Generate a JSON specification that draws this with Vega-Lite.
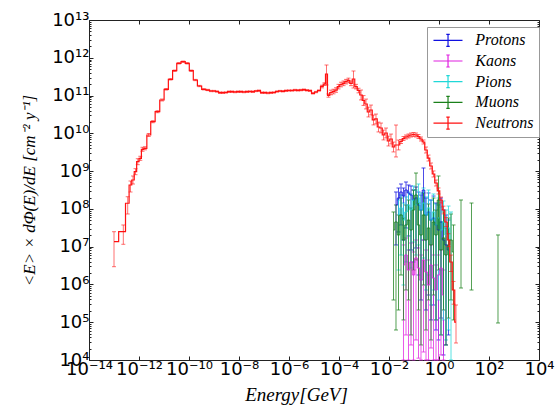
{
  "$schema": "https://vega.github.io/schema/vega-lite/v6.json",
  "width": 450,
  "height": 340,
  "autosize": {"type": "none"},
  "padding": {"left": 89, "top": 20, "right": 21, "bottom": 52},
  "background": "white",
  "config": {"view": {"stroke": "#222", "strokeWidth": 1}},
  "datasets": {
    "pts": [
      {"p":"Protons","E":1.905e-2,"F":1.27e8,"lo":1.11e7,"hi":2.80e8,"r":0},
      {"p":"Protons","E":2.40e-2,"F":1.94e8,"lo":2.45e7,"hi":3.57e8,"r":0},
      {"p":"Protons","E":3.02e-2,"F":2.80e8,"lo":3.75e7,"hi":4.56e8,"r":0},
      {"p":"Protons","E":3.80e-2,"F":2.19e8,"lo":1.50e7,"hi":3.57e8,"r":0},
      {"p":"Protons","E":4.79e-2,"F":3.16e8,"lo":3.12e7,"hi":5.15e8,"r":0},
      {"p":"Protons","E":6.03e-2,"F":2.64e8,"lo":1.92e7,"hi":4.29e8,"r":0},
      {"p":"Protons","E":7.59e-2,"F":2.33e8,"lo":8.17e6,"hi":4.04e8,"r":0},
      {"p":"Protons","E":9.55e-2,"F":1.72e8,"lo":3.93e6,"hi":3.16e8,"r":0},
      {"p":"Protons","E":0.1202,"F":1.94e8,"lo":9.23e6,"hi":3.80e8,"r":0},
      {"p":"Protons","E":0.1514,"F":1.27e8,"lo":1.78e6,"hi":2.80e8,"r":0},
      {"p":"Protons","E":0.1905,"F":9.35e7,"lo":3.88e5,"hi":2.33e8,"r":0},
      {"p":"Protons","E":0.240,"F":3.16e8,"lo":1.50e7,"hi":1.21e9,"r":0},
      {"p":"Protons","E":0.302,"F":6.90e7,"lo":2.11e5,"hi":1.94e8,"r":0},
      {"p":"Protons","E":0.380,"F":8.28e7,"lo":5.26e5,"hi":2.64e8,"r":0},
      {"p":"Protons","E":0.479,"F":5.08e7,"lo":1.15e5,"hi":1.72e8,"r":0},
      {"p":"Protons","E":0.603,"F":5.74e7,"lo":2.86e5,"hi":2.19e8,"r":0},
      {"p":"Protons","E":0.759,"F":3.75e7,"lo":6.23e4,"hi":1.43e8,"r":0},
      {"p":"Protons","E":0.955,"F":2.76e7,"lo":3.39e4,"hi":1.27e8,"r":0},
      {"p":"Protons","E":1.202,"F":4.50e7,"lo":1.29e5,"hi":1.94e8,"r":0},
      {"p":"Protons","E":1.514,"F":1.50e7,"lo":1.36e4,"hi":9.35e7,"r":0},
      {"p":"Protons","E":1.905,"F":1.11e7,"lo":2.50e4,"hi":6.90e7,"r":0},
      {"p":"Protons","E":2.40,"F":8.17e6,"lo":4.60e4,"hi":5.08e7,"r":0},

      {"p":"Kaons","E":3.80e-2,"F":3.27e6,"lo":2.96e3,"hi":1.11e7,"r":0},
      {"p":"Kaons","E":4.79e-2,"F":6.02e6,"lo":4.60e4,"hi":1.70e7,"r":0},
      {"p":"Kaons","E":6.03e-2,"F":2.41e6,"lo":5.45e3,"hi":8.17e6,"r":0},
      {"p":"Kaons","E":7.59e-2,"F":3.93e6,"lo":2.50e4,"hi":1.25e7,"r":0},
      {"p":"Kaons","E":9.55e-2,"F":1.78e6,"lo":2.96e3,"hi":7.23e6,"r":0},
      {"p":"Kaons","E":0.1202,"F":5.01e6,"lo":3.39e4,"hi":1.50e7,"r":0},
      {"p":"Kaons","E":0.1514,"F":2.72e6,"lo":1.12e4,"hi":9.23e6,"r":0},
      {"p":"Kaons","E":0.1905,"F":1.31e6,"lo":1.61e3,"hi":6.02e6,"r":0},
      {"p":"Kaons","E":0.240,"F":4.44e6,"lo":1.63e4,"hi":1.50e7,"r":0},
      {"p":"Kaons","E":0.302,"F":2.14e6,"lo":7.4e3,"hi":8.17e6,"r":0},
      {"p":"Kaons","E":0.380,"F":9.68e5,"lo":8.75e2,"hi":4.44e6,"r":0},
      {"p":"Kaons","E":0.479,"F":3.27e6,"lo":2.08e4,"hi":1.11e7,"r":0},
      {"p":"Kaons","E":0.603,"F":1.48e6,"lo":5.45e3,"hi":6.02e6,"r":0},
      {"p":"Kaons","E":0.759,"F":7.13e5,"lo":1.2e3,"hi":3.27e6,"r":0},
      {"p":"Kaons","E":0.955,"F":1.78e6,"lo":2.96e3,"hi":6.02e6,"r":0},
      {"p":"Kaons","E":1.202,"F":2.72e6,"lo":1.36e4,"hi":8.17e6,"r":0},
      {"p":"Kaons","E":1.514,"F":5.26e5,"lo":8.75e2,"hi":2.41e6,"r":0},

      {"p":"Pions","E":2.40e-2,"F":6.90e7,"lo":2.41e6,"hi":1.72e8,"r":0},
      {"p":"Pions","E":3.02e-2,"F":1.06e8,"lo":6.02e6,"hi":2.33e8,"r":0},
      {"p":"Pions","E":3.80e-2,"F":5.08e7,"lo":9.68e5,"hi":1.43e8,"r":0},
      {"p":"Pions","E":4.79e-2,"F":8.28e7,"lo":3.93e6,"hi":2.07e8,"r":0},
      {"p":"Pions","E":6.03e-2,"F":1.27e8,"lo":8.17e6,"hi":2.80e8,"r":0},
      {"p":"Pions","E":7.59e-2,"F":9.35e7,"lo":2.72e6,"hi":2.48e8,"r":0},
      {"p":"Pions","E":9.55e-2,"F":1.72e8,"lo":1.33e7,"hi":4.04e8,"r":0},
      {"p":"Pions","E":0.1202,"F":1.27e8,"lo":6.02e6,"hi":3.16e8,"r":0},
      {"p":"Pions","E":0.1514,"F":1.94e8,"lo":1.11e7,"hi":4.56e8,"r":0},
      {"p":"Pions","E":0.1905,"F":9.35e7,"lo":1.31e6,"hi":2.64e8,"r":0},
      {"p":"Pions","E":0.240,"F":1.43e8,"lo":5.01e6,"hi":3.57e8,"r":0},
      {"p":"Pions","E":0.302,"F":6.90e7,"lo":7.13e5,"hi":2.07e8,"r":0},
      {"p":"Pions","E":0.380,"F":1.06e8,"lo":1.78e6,"hi":3.16e8,"r":0},
      {"p":"Pions","E":0.479,"F":5.08e7,"lo":2.86e5,"hi":1.72e8,"r":0},
      {"p":"Pions","E":0.603,"F":8.28e7,"lo":7.13e5,"hi":2.48e8,"r":0},
      {"p":"Pions","E":0.759,"F":3.75e7,"lo":1.15e5,"hi":1.35e8,"r":0},
      {"p":"Pions","E":0.955,"F":5.74e7,"lo":3.88e5,"hi":1.94e8,"r":0},
      {"p":"Pions","E":1.202,"F":2.76e7,"lo":4.60e4,"hi":1.12e8,"r":0},
      {"p":"Pions","E":1.514,"F":4.50e7,"lo":1.15e5,"hi":1.62e8,"r":0},
      {"p":"Pions","E":1.905,"F":2.04e7,"lo":3.39e4,"hi":9.35e7,"r":0},
      {"p":"Pions","E":2.40,"F":3.12e7,"lo":6.23e4,"hi":1.19e8,"r":0},
      {"p":"Pions","E":3.02,"F":1.50e7,"lo":2.96e3,"hi":8.28e7,"r":0},

      {"p":"Muons","E":1.514e-2,"F":2.76e7,"lo":3.88e5,"hi":8.28e7,"r":0},
      {"p":"Muons","E":1.905e-2,"F":4.50e7,"lo":6.23e4,"hi":1.27e8,"r":0},
      {"p":"Muons","E":2.40e-2,"F":2.04e7,"lo":2.11e5,"hi":6.90e7,"r":0},
      {"p":"Muons","E":3.02e-2,"F":6.90e7,"lo":1.78e6,"hi":1.94e8,"r":0},
      {"p":"Muons","E":3.80e-2,"F":1.50e7,"lo":1.15e5,"hi":5.74e7,"r":0},
      {"p":"Muons","E":4.79e-2,"F":3.75e7,"lo":7.13e5,"hi":1.27e8,"r":0},
      {"p":"Muons","E":6.03e-2,"F":5.08e7,"lo":3.88e5,"hi":1.72e8,"r":0},
      {"p":"Muons","E":7.59e-2,"F":2.76e7,"lo":4.60e4,"hi":1.06e8,"r":0},
      {"p":"Muons","E":9.55e-2,"F":9.35e7,"lo":2.41e6,"hi":3.16e8,"r":0},
      {"p":"Muons","E":0.1202,"F":2.33e8,"lo":4.44e6,"hi":8.9e8,"r":0},
      {"p":"Muons","E":0.1514,"F":3.75e7,"lo":2.11e5,"hi":1.43e8,"r":0},
      {"p":"Muons","E":0.1905,"F":2.04e7,"lo":2.50e4,"hi":9.35e7,"r":0},
      {"p":"Muons","E":0.240,"F":6.90e7,"lo":9.68e5,"hi":2.64e8,"r":0},
      {"p":"Muons","E":0.302,"F":1.50e7,"lo":6.23e4,"hi":6.90e7,"r":0},
      {"p":"Muons","E":0.380,"F":3.12e7,"lo":3.88e5,"hi":1.35e8,"r":0},
      {"p":"Muons","E":0.479,"F":1.11e7,"lo":3.39e4,"hi":5.08e7,"r":0},
      {"p":"Muons","E":0.603,"F":4.50e7,"lo":5.26e5,"hi":1.94e8,"r":0},
      {"p":"Muons","E":0.759,"F":2.04e7,"lo":1.15e5,"hi":9.35e7,"r":0},
      {"p":"Muons","E":0.955,"F":1.72e8,"lo":2.41e6,"hi":7.43e8,"r":0},
      {"p":"Muons","E":1.202,"F":8.17e6,"lo":4.60e4,"hi":4.50e7,"r":0},
      {"p":"Muons","E":1.514,"F":1.70e7,"lo":2.11e5,"hi":8.28e7,"r":0},
      {"p":"Muons","E":1.905,"F":6.02e6,"lo":2.50e4,"hi":3.12e7,"r":0},
      {"p":"Muons","E":2.40,"F":1.11e7,"lo":1.29e5,"hi":5.74e7,"r":0},
      {"p":"Muons","E":3.02,"F":1.50e7,"lo":3.88e5,"hi":7.33e7,"r":0},
      {"p":"Muons","E":3.80,"F":7.23e6,"lo":1.15e5,"hi":3.75e7,"r":0},
      {"p":"Muons","E":7.59,"F":4.50e7,"lo":8.05e5,"hi":1.72e8,"r":1},
      {"p":"Muons","E":19.95,"F":3.75e7,"lo":7.13e5,"hi":1.43e8,"r":2},
      {"p":"Muons","E":229,"F":1.11e7,"lo":9.55e4,"hi":2.04e7,"r":3},

      {"p":"Neutrons","E":1.0e-13,"F":1.355e7,"lo":2.95e6,"hi":2.49e7,"r":0},
      {"p":"Neutrons","E":2.36e-13,"F":2.49e7,"lo":1.156e7,"hi":3.75e7,"r":0},
      {"p":"Neutrons","E":3.53e-13,"F":1.41e8,"lo":7.33e7,"hi":2.10e8,"r":0},
      {"p":"Neutrons","E":4.57e-13,"F":4.29e8,"lo":2.80e8,"hi":5.47e8,"r":0},
      {"p":"Neutrons","E":5.75e-13,"F":5.82e8,"lo":4.56e8,"hi":7.43e8,"r":0},
      {"p":"Neutrons","E":7.24e-13,"F":9.66e8,"lo":8.04e8,"hi":1.16e9,"r":0},
      {"p":"Neutrons","E":8.95e-13,"F":1.775e9,"lo":1.48e9,"hi":2.13e9,"r":0},
      {"p":"Neutrons","E":1.127e-12,"F":2.18e9,"lo":1.93e9,"hi":2.47e9,"r":0},
      {"p":"Neutrons","E":1.38e-12,"F":3.78e9,"lo":3.35e9,"hi":4.27e9,"r":0},
      {"p":"Neutrons","E":1.74e-12,"F":4.02e9,"lo":3.66e9,"hi":4.41e9,"r":0},
      {"p":"Neutrons","E":2.44e-12,"F":9.04e9,"lo":8.24e9,"hi":9.91e9,"r":0},
      {"p":"Neutrons","E":3.56e-12,"F":2.03e10,"lo":1.91e10,"hi":2.16e10,"r":0},
      {"p":"Neutrons","E":5.50e-12,"F":3.74e10,"lo":3.52e10,"hi":3.97e10,"r":0},
      {"p":"Neutrons","E":8.32e-12,"F":7.62e10,"lo":7.2e10,"hi":8.1e10,"r":0},
      {"p":"Neutrons","E":1.225e-11,"F":1.465e11,"lo":1.40e11,"hi":1.53e11,"r":0},
      {"p":"Neutrons","E":1.82e-11,"F":2.69e11,"lo":2.58e11,"hi":2.80e11,"r":0},
      {"p":"Neutrons","E":2.68e-11,"F":4.55e11,"lo":4.37e11,"hi":4.73e11,"r":0},
      {"p":"Neutrons","E":3.91e-11,"F":7.14e11,"lo":6.86e11,"hi":7.43e11,"r":0},
      {"p":"Neutrons","E":5.86e-11,"F":7.87e11,"lo":7.56e11,"hi":8.19e11,"r":0},
      {"p":"Neutrons","E":8.55e-11,"F":7.14e11,"lo":6.86e11,"hi":7.43e11,"r":0},
      {"p":"Neutrons","E":1.236e-10,"F":4.55e11,"lo":4.37e11,"hi":4.73e11,"r":0},
      {"p":"Neutrons","E":1.786e-10,"F":2.58e11,"lo":2.48e11,"hi":2.68e11,"r":0},
      {"p":"Neutrons","E":2.63e-10,"F":1.79e11,"lo":1.72e11,"hi":1.86e11,"r":0},
      {"p":"Neutrons","E":3.91e-10,"F":1.465e11,"lo":1.41e11,"hi":1.52e11,"r":0},
      {"p":"Neutrons","E":5.75e-10,"F":1.40e11,"lo":1.35e11,"hi":1.46e11,"r":0},
      {"p":"Neutrons","E":7.59e-10,"F":1.32e11,"lo":1.27e11,"hi":1.37e11,"r":0},
      {"p":"Neutrons","E":1.0e-9,"F":1.32e11,"lo":1.27e11,"hi":1.37e11,"r":0},
      {"p":"Neutrons","E":1.318e-9,"F":1.282e11,"lo":1.23e11,"hi":1.33e11,"r":0},
      {"p":"Neutrons","E":1.738e-9,"F":1.19e11,"lo":1.14e11,"hi":1.24e11,"r":0},
      {"p":"Neutrons","E":2.29e-9,"F":1.19e11,"lo":1.14e11,"hi":1.24e11,"r":0},
      {"p":"Neutrons","E":3.02e-9,"F":1.205e11,"lo":1.16e11,"hi":1.25e11,"r":0},
      {"p":"Neutrons","E":3.98e-9,"F":1.265e11,"lo":1.21e11,"hi":1.32e11,"r":0},
      {"p":"Neutrons","E":5.25e-9,"F":1.265e11,"lo":1.21e11,"hi":1.32e11,"r":0},
      {"p":"Neutrons","E":6.92e-9,"F":1.242e11,"lo":1.19e11,"hi":1.29e11,"r":0},
      {"p":"Neutrons","E":9.12e-9,"F":1.265e11,"lo":1.21e11,"hi":1.32e11,"r":0},
      {"p":"Neutrons","E":1.202e-8,"F":1.265e11,"lo":1.21e11,"hi":1.32e11,"r":0},
      {"p":"Neutrons","E":1.585e-8,"F":1.242e11,"lo":1.19e11,"hi":1.29e11,"r":0},
      {"p":"Neutrons","E":2.09e-8,"F":1.265e11,"lo":1.21e11,"hi":1.32e11,"r":0},
      {"p":"Neutrons","E":2.75e-8,"F":1.282e11,"lo":1.23e11,"hi":1.33e11,"r":0},
      {"p":"Neutrons","E":3.63e-8,"F":1.265e11,"lo":1.21e11,"hi":1.32e11,"r":0},
      {"p":"Neutrons","E":4.79e-8,"F":1.32e11,"lo":1.27e11,"hi":1.37e11,"r":0},
      {"p":"Neutrons","E":6.31e-8,"F":1.345e11,"lo":1.29e11,"hi":1.40e11,"r":0},
      {"p":"Neutrons","E":8.32e-8,"F":1.19e11,"lo":1.14e11,"hi":1.24e11,"r":0},
      {"p":"Neutrons","E":1.096e-7,"F":1.19e11,"lo":1.14e11,"hi":1.24e11,"r":0},
      {"p":"Neutrons","E":1.445e-7,"F":1.17e11,"lo":1.12e11,"hi":1.22e11,"r":0},
      {"p":"Neutrons","E":1.905e-7,"F":1.19e11,"lo":1.14e11,"hi":1.24e11,"r":0},
      {"p":"Neutrons","E":2.51e-7,"F":1.205e11,"lo":1.16e11,"hi":1.25e11,"r":0},
      {"p":"Neutrons","E":3.31e-7,"F":1.282e11,"lo":1.23e11,"hi":1.33e11,"r":0},
      {"p":"Neutrons","E":4.37e-7,"F":1.32e11,"lo":1.27e11,"hi":1.37e11,"r":0},
      {"p":"Neutrons","E":5.75e-7,"F":1.297e11,"lo":1.25e11,"hi":1.35e11,"r":0},
      {"p":"Neutrons","E":7.59e-7,"F":1.345e11,"lo":1.29e11,"hi":1.40e11,"r":0},
      {"p":"Neutrons","E":1.0e-6,"F":1.36e11,"lo":1.31e11,"hi":1.41e11,"r":0},
      {"p":"Neutrons","E":1.318e-6,"F":1.36e11,"lo":1.31e11,"hi":1.41e11,"r":0},
      {"p":"Neutrons","E":1.738e-6,"F":1.40e11,"lo":1.34e11,"hi":1.46e11,"r":0},
      {"p":"Neutrons","E":2.29e-6,"F":1.378e11,"lo":1.32e11,"hi":1.43e11,"r":0},
      {"p":"Neutrons","E":3.02e-6,"F":1.40e11,"lo":1.34e11,"hi":1.46e11,"r":0},
      {"p":"Neutrons","E":3.98e-6,"F":1.43e11,"lo":1.37e11,"hi":1.49e11,"r":0},
      {"p":"Neutrons","E":5.25e-6,"F":1.378e11,"lo":1.32e11,"hi":1.43e11,"r":0},
      {"p":"Neutrons","E":6.92e-6,"F":1.345e11,"lo":1.29e11,"hi":1.40e11,"r":0},
      {"p":"Neutrons","E":9.12e-6,"F":1.148e11,"lo":1.10e11,"hi":1.19e11,"r":0},
      {"p":"Neutrons","E":1.202e-5,"F":1.242e11,"lo":1.19e11,"hi":1.29e11,"r":0},
      {"p":"Neutrons","E":1.585e-5,"F":1.36e11,"lo":1.31e11,"hi":1.41e11,"r":0},
      {"p":"Neutrons","E":2.09e-5,"F":1.74e11,"lo":1.60e11,"hi":1.88e11,"r":0},
      {"p":"Neutrons","E":2.63e-5,"F":2.02e11,"lo":1.86e11,"hi":2.18e11,"r":0},
      {"p":"Neutrons","E":3.16e-5,"F":3.72e11,"lo":1.905e11,"hi":6.44e11,"r":0},
      {"p":"Neutrons","E":3.80e-5,"F":1.005e11,"lo":9.05e10,"hi":1.105e11,"r":0},
      {"p":"Neutrons","E":4.79e-5,"F":1.205e11,"lo":1.05e11,"hi":1.39e11,"r":0},
      {"p":"Neutrons","E":6.03e-5,"F":1.282e11,"lo":1.11e11,"hi":1.47e11,"r":0},
      {"p":"Neutrons","E":7.59e-5,"F":1.40e11,"lo":1.22e11,"hi":1.61e11,"r":0},
      {"p":"Neutrons","E":9.55e-5,"F":1.72e11,"lo":1.50e11,"hi":1.98e11,"r":0},
      {"p":"Neutrons","E":1.202e-4,"F":1.96e11,"lo":1.70e11,"hi":2.25e11,"r":0},
      {"p":"Neutrons","E":1.514e-4,"F":2.11e11,"lo":1.83e11,"hi":2.43e11,"r":0},
      {"p":"Neutrons","E":1.905e-4,"F":2.33e11,"lo":2.03e11,"hi":2.68e11,"r":0},
      {"p":"Neutrons","E":2.40e-4,"F":2.51e11,"lo":2.18e11,"hi":2.89e11,"r":0},
      {"p":"Neutrons","E":3.02e-4,"F":2.11e11,"lo":1.83e11,"hi":2.43e11,"r":0},
      {"p":"Neutrons","E":3.80e-4,"F":2.74e11,"lo":1.585e11,"hi":4.47e11,"r":0},
      {"p":"Neutrons","E":4.79e-4,"F":1.72e11,"lo":1.50e11,"hi":1.98e11,"r":0},
      {"p":"Neutrons","E":6.03e-4,"F":1.36e11,"lo":1.18e11,"hi":1.56e11,"r":0},
      {"p":"Neutrons","E":7.59e-4,"F":1.035e11,"lo":7.67e10,"hi":1.40e11,"r":0},
      {"p":"Neutrons","E":9.55e-4,"F":7.40e10,"lo":5.48e10,"hi":9.99e10,"r":0},
      {"p":"Neutrons","E":1.202e-3,"F":5.98e10,"lo":4.43e10,"hi":8.07e10,"r":0},
      {"p":"Neutrons","E":1.514e-3,"F":3.67e10,"lo":2.72e10,"hi":4.95e10,"r":0},
      {"p":"Neutrons","E":1.905e-3,"F":4.15e10,"lo":3.07e10,"hi":5.60e10,"r":0},
      {"p":"Neutrons","E":2.40e-3,"F":2.26e10,"lo":1.67e10,"hi":3.05e10,"r":0},
      {"p":"Neutrons","E":3.02e-3,"F":2.40e10,"lo":1.78e10,"hi":3.24e10,"r":0},
      {"p":"Neutrons","E":3.80e-3,"F":1.47e10,"lo":1.09e10,"hi":1.98e10,"r":0},
      {"p":"Neutrons","E":4.79e-3,"F":1.385e10,"lo":1.03e10,"hi":1.87e10,"r":0},
      {"p":"Neutrons","E":6.03e-3,"F":9.04e9,"lo":6.70e9,"hi":1.22e10,"r":0},
      {"p":"Neutrons","E":7.59e-3,"F":1.02e10,"lo":7.56e9,"hi":1.38e10,"r":0},
      {"p":"Neutrons","E":9.55e-3,"F":6.27e9,"lo":4.64e9,"hi":8.46e9,"r":0},
      {"p":"Neutrons","E":1.202e-2,"F":7.08e9,"lo":5.24e9,"hi":9.56e9,"r":0},
      {"p":"Neutrons","E":1.514e-2,"F":4.35e9,"lo":3.22e9,"hi":5.87e9,"r":0},
      {"p":"Neutrons","E":1.905e-2,"F":4.91e9,"lo":2.37e9,"hi":1.66e10,"r":0},
      {"p":"Neutrons","E":2.40e-2,"F":4.91e9,"lo":3.64e9,"hi":6.63e9,"r":0},
      {"p":"Neutrons","E":3.02e-2,"F":6.08e9,"lo":5.38e9,"hi":6.87e9,"r":0},
      {"p":"Neutrons","E":3.80e-2,"F":7.30e9,"lo":6.46e9,"hi":8.25e9,"r":0},
      {"p":"Neutrons","E":4.79e-2,"F":8.00e9,"lo":7.08e9,"hi":9.04e9,"r":0},
      {"p":"Neutrons","E":6.03e-2,"F":8.50e9,"lo":7.52e9,"hi":9.61e9,"r":0},
      {"p":"Neutrons","E":7.59e-2,"F":9.04e9,"lo":8.0e9,"hi":1.02e10,"r":0},
      {"p":"Neutrons","E":9.55e-2,"F":9.32e9,"lo":8.25e9,"hi":1.05e10,"r":0},
      {"p":"Neutrons","E":0.1202,"F":9.04e9,"lo":8.0e9,"hi":1.02e10,"r":0},
      {"p":"Neutrons","E":0.1514,"F":8.24e9,"lo":7.29e9,"hi":9.31e9,"r":0},
      {"p":"Neutrons","E":0.1905,"F":7.08e9,"lo":6.27e9,"hi":8.0e9,"r":0},
      {"p":"Neutrons","E":0.240,"F":5.90e9,"lo":5.22e9,"hi":6.67e9,"r":0},
      {"p":"Neutrons","E":0.302,"F":3.62e9,"lo":3.02e9,"hi":4.34e9,"r":0},
      {"p":"Neutrons","E":0.380,"F":2.22e9,"lo":1.85e9,"hi":2.66e9,"r":0},
      {"p":"Neutrons","E":0.479,"F":1.365e9,"lo":1.14e9,"hi":1.64e9,"r":0},
      {"p":"Neutrons","E":0.603,"F":8.39e8,"lo":6.99e8,"hi":1.01e9,"r":0},
      {"p":"Neutrons","E":0.759,"F":4.85e8,"lo":4.04e8,"hi":5.82e8,"r":0},
      {"p":"Neutrons","E":0.955,"F":2.98e8,"lo":2.48e8,"hi":3.58e8,"r":0},
      {"p":"Neutrons","E":1.202,"F":1.72e8,"lo":1.43e8,"hi":2.06e8,"r":0},
      {"p":"Neutrons","E":1.514,"F":9.35e7,"lo":7.4e7,"hi":1.18e8,"r":0},
      {"p":"Neutrons","E":1.905,"F":4.50e7,"lo":3.4e7,"hi":6.0e7,"r":0},
      {"p":"Neutrons","E":2.40,"F":1.50e7,"lo":1.0e7,"hi":2.2e7,"r":0},
      {"p":"Neutrons","E":3.02,"F":3.93e6,"lo":2.2e6,"hi":6.0e6,"r":0},
      {"p":"Neutrons","E":3.80,"F":7.13e5,"lo":3.0e5,"hi":1.2e6,"r":0},
      {"p":"Neutrons","E":4.79,"F":1.01e5,"lo":2.82e4,"hi":2.86e5,"r":0}
    ]
  },
  "data": {"name": "pts"},
  "layer": [
    {
      "transform": [{"filter": "datum.p != 'Neutrons'"}],
      "mark": {"type": "errorbar", "thickness": 1, "ticks": {"size": 4, "opacity": 0.75}, "rule": {"opacity": 0.75}},
      "encoding": {
        "x": {"field": "E", "type": "quantitative",
          "scale": {"type": "log", "domain": [1e-14, 1e4]},
          "axis": {"orient": "bottom", "values": [1e-14,1e-12,1e-10,1e-8,1e-6,1e-4,1e-2,1,1e2,1e4],
            "labelExpr": "'10' + replace(replace(replace(replace(replace(replace(replace(replace(replace(replace(replace('' + round(log(datum.value)/LN10), regexp('-','g'), '⁻'), regexp('0','g'), '⁰'), regexp('1','g'), '¹'), regexp('2','g'), '²'), regexp('3','g'), '³'), regexp('4','g'), '⁴'), regexp('5','g'), '⁵'), regexp('6','g'), '⁶'), regexp('7','g'), '⁷'), regexp('8','g'), '⁸'), regexp('9','g'), '⁹')",
            "labelFont": "DejaVu Sans", "labelFontSize": 18, "labelColor": "black",
            "labelPadding": 4, "labelFlush": false, "labelOverlap": false,
            "tickSize": -4, "tickColor": "#222", "domain": false, "grid": false,
            "title": "Energy[GeV]", "titleFont": "Liberation Serif", "titleFontStyle": "italic",
            "titleFontWeight": "normal", "titleFontSize": 19, "titleColor": "black",
            "titleX": 207, "titleY": 40, "titleBaseline": "alphabetic", "titleAlign": "center"}},
        "y": {"field": "lo", "type": "quantitative",
          "scale": {"type": "log", "domain": [1e4, 1e13], "clamp": true},
          "axis": {"orient": "left",
            "values": [1e4,2e4,3e4,4e4,5e4,6e4,7e4,8e4,9e4,1e5,2e5,3e5,4e5,5e5,6e5,7e5,8e5,9e5,1e6,2e6,3e6,4e6,5e6,6e6,7e6,8e6,9e6,1e7,2e7,3e7,4e7,5e7,6e7,7e7,8e7,9e7,1e8,2e8,3e8,4e8,5e8,6e8,7e8,8e8,9e8,1e9,2e9,3e9,4e9,5e9,6e9,7e9,8e9,9e9,1e10,2e10,3e10,4e10,5e10,6e10,7e10,8e10,9e10,1e11,2e11,3e11,4e11,5e11,6e11,7e11,8e11,9e11,1e12,2e12,3e12,4e12,5e12,6e12,7e12,8e12,9e12,1e13],
            "labelExpr": "abs(log(datum.value)/LN10 - round(log(datum.value)/LN10)) < 0.01 ? '10' + replace(replace(replace(replace(replace(replace(replace(replace(replace(replace(replace('' + round(log(datum.value)/LN10), regexp('-','g'), '⁻'), regexp('0','g'), '⁰'), regexp('1','g'), '¹'), regexp('2','g'), '²'), regexp('3','g'), '³'), regexp('4','g'), '⁴'), regexp('5','g'), '⁵'), regexp('6','g'), '⁶'), regexp('7','g'), '⁷'), regexp('8','g'), '⁸'), regexp('9','g'), '⁹') : ''",
            "labelFont": "DejaVu Sans", "labelFontSize": 18, "labelColor": "black",
            "labelPadding": 4, "labelFlush": false, "labelOverlap": false,
            "tickSize": {"condition": {"test": "abs(log(datum.value)/LN10 - round(log(datum.value)/LN10)) < 0.01", "value": -4}, "value": -2},
            "tickColor": "#222", "domain": false, "grid": false,
            "title": "<E> × dΦ̇(E)/dE   [cm⁻² y⁻¹]", "titleFont": "Liberation Serif", "titleFontStyle": "italic",
            "titleFontWeight": "normal", "titleFontSize": 17, "titleColor": "black",
            "titleX": -60, "titleY": 170, "titleAngle": -90, "titleAlign": "center", "titleBaseline": "middle"}},
        "y2": {"field": "hi"},
        "color": {"field": "p", "type": "nominal",
          "scale": {"domain": ["Protons","Kaons","Pions","Muons","Neutrons"], "range": ["#1010e0","#e020e0","#20d8d8","#1a801a","#ff1010"]},
          "legend": {"title": null, "orient": "none", "legendX": 338, "legendY": 7,
            "symbolType": "M-0.91,0H2.96M1.03,-0.8V0.8M0.8,-0.8H1.26M0.8,0.8H1.26",
            "symbolSize": 225, "symbolStrokeWidth": 1.2, "symbolFillColor": "transparent", "symbolOpacity": 1,
            "labelFont": "Liberation Serif", "labelFontStyle": "italic", "labelFontSize": 16, "labelColor": "black",
            "labelOffset": 26.5, "padding": 4.8, "rowPadding": 3.7,
            "strokeColor": "#999", "fillColor": "white", "cornerRadius": 0}}
      }
    },
    {
      "transform": [{"filter": "datum.p != 'Neutrons'"}],
      "mark": {"type": "line", "interpolate": "step", "strokeWidth": 1, "opacity": 0.9},
      "encoding": {
        "x": {"field": "E", "type": "quantitative", "scale": {"type": "log", "domain": [1e-14, 1e4]}, "axis": null},
        "y": {"field": "F", "type": "quantitative", "scale": {"type": "log", "domain": [1e4, 1e13], "clamp": true}, "axis": null},
        "color": {"field": "p", "type": "nominal", "legend": null},
        "detail": {"field": "r", "type": "nominal"}
      }
    },
    {
      "transform": [{"filter": "datum.p == 'Neutrons'"}],
      "mark": {"type": "errorbar", "thickness": 1, "ticks": {"size": 4, "opacity": 0.6}, "rule": {"opacity": 0.6}},
      "encoding": {
        "x": {"field": "E", "type": "quantitative", "scale": {"type": "log", "domain": [1e-14, 1e4]},
          "axis": {"orient": "top", "values": [1e-14,1e-12,1e-10,1e-8,1e-6,1e-4,1e-2,1,1e2,1e4], "labels": false,
            "tickSize": -4, "tickColor": "#222", "domain": false, "grid": false, "title": null}},
        "y": {"field": "lo", "type": "quantitative", "scale": {"type": "log", "domain": [1e4, 1e13], "clamp": true},
          "axis": {"orient": "right",
            "values": [1e4,2e4,3e4,4e4,5e4,6e4,7e4,8e4,9e4,1e5,2e5,3e5,4e5,5e5,6e5,7e5,8e5,9e5,1e6,2e6,3e6,4e6,5e6,6e6,7e6,8e6,9e6,1e7,2e7,3e7,4e7,5e7,6e7,7e7,8e7,9e7,1e8,2e8,3e8,4e8,5e8,6e8,7e8,8e8,9e8,1e9,2e9,3e9,4e9,5e9,6e9,7e9,8e9,9e9,1e10,2e10,3e10,4e10,5e10,6e10,7e10,8e10,9e10,1e11,2e11,3e11,4e11,5e11,6e11,7e11,8e11,9e11,1e12,2e12,3e12,4e12,5e12,6e12,7e12,8e12,9e12,1e13],
            "labels": false,
            "tickSize": {"condition": {"test": "abs(log(datum.value)/LN10 - round(log(datum.value)/LN10)) < 0.01", "value": -4}, "value": -2},
            "tickColor": "#222", "domain": false, "grid": false, "title": null}},
        "y2": {"field": "hi"},
        "color": {"field": "p", "type": "nominal", "legend": null}
      }
    },
    {
      "transform": [{"filter": "datum.p == 'Neutrons'"}],
      "mark": {"type": "line", "interpolate": "step", "strokeWidth": 1.2},
      "encoding": {
        "x": {"field": "E", "type": "quantitative", "scale": {"type": "log", "domain": [1e-14, 1e4]}, "axis": null},
        "y": {"field": "F", "type": "quantitative", "scale": {"type": "log", "domain": [1e4, 1e13], "clamp": true}, "axis": null},
        "color": {"field": "p", "type": "nominal", "legend": null}
      }
    }
  ],
  "resolve": {"axis": {"x": "independent", "y": "independent"}}
}
